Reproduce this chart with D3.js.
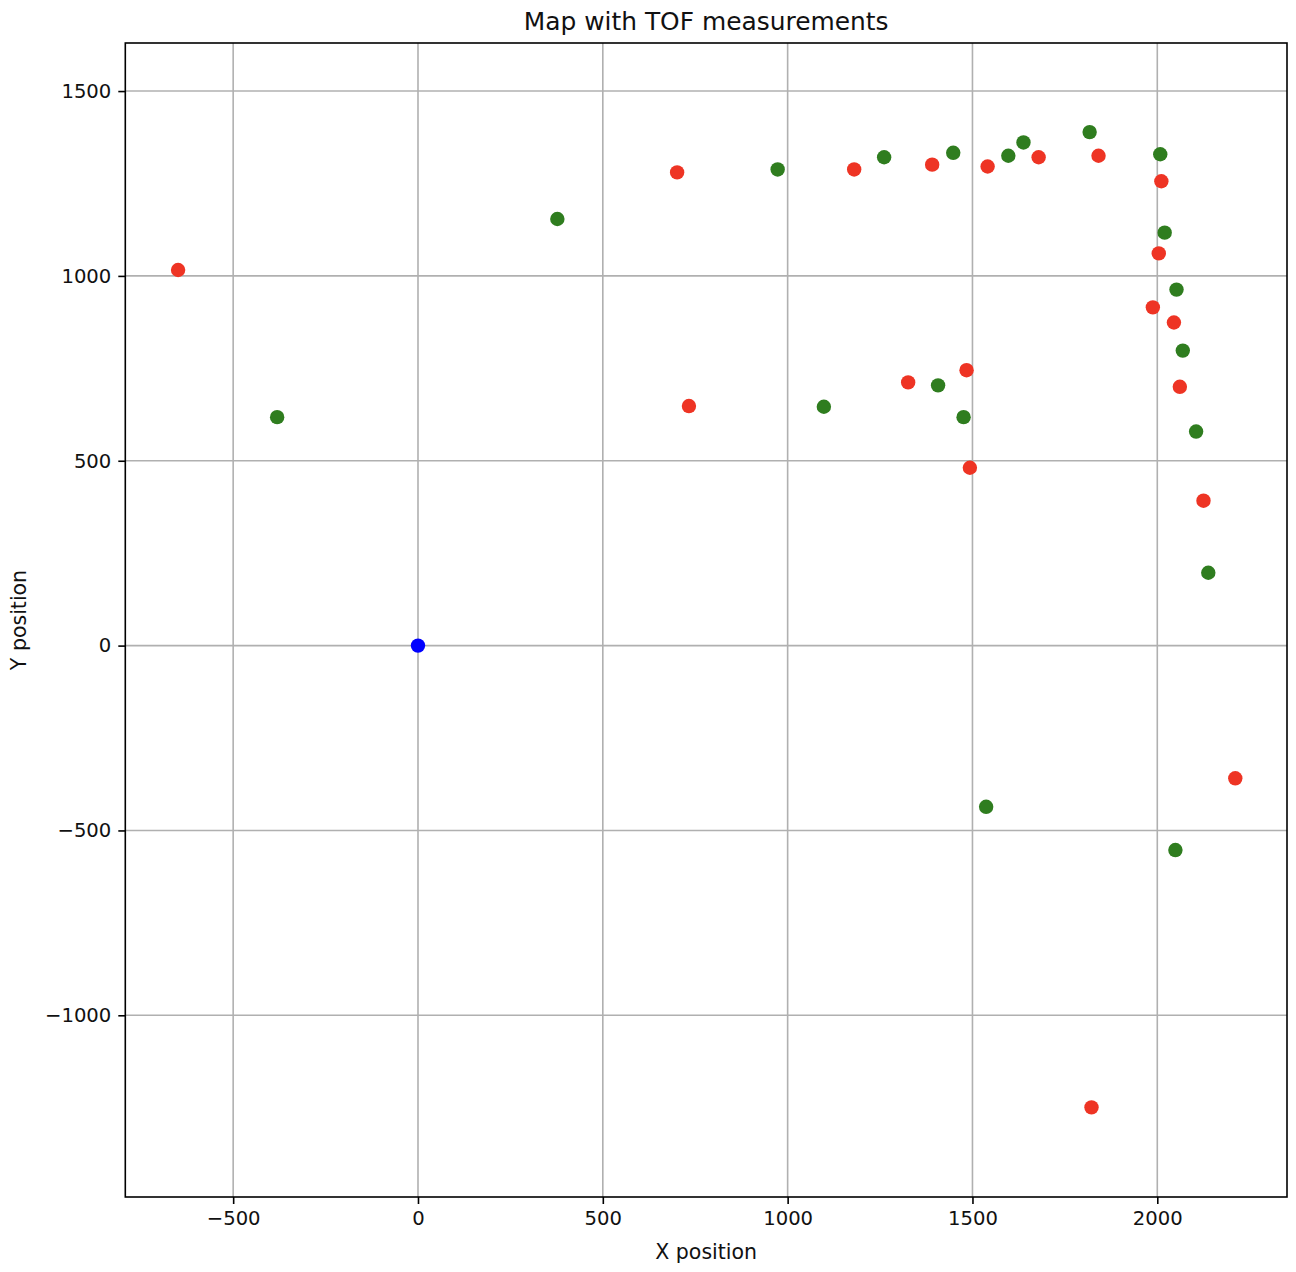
<!DOCTYPE html>
<html>
<head>
<meta charset="utf-8">
<script src="https://cdn.jsdelivr.net/npm/d3@7"></script>
<style>
  html, body { margin: 0; padding: 0; background: #fff; }
  svg { display: block; font-family: "DejaVu Sans", sans-serif; }
</style>
</head>
<body>
<svg id="chart" width="1296" height="1272"></svg>
<script>
// ---- data ----
const title = "Map with TOF measurements";
const xLabel = "X position";
const yLabel = "Y position";
const xTicks = [-500, 0, 500, 1000, 1500, 2000];
const yTicks = [-1000, -500, 0, 500, 1000, 1500];

const originX = [0];
const originY = [0];

const redX = [-649, 701, 733, 1180, 1326, 1391, 1484, 1493, 1541, 1679, 1841, 2011, 2004, 1988, 2045, 2061, 2125, 2211, 1822];
const redY = [1016, 1280, 648, 1288, 712, 1301, 745, 481, 1296, 1321, 1325, 1256, 1061, 915, 874, 700, 392, -359, -1249];

const greenX = [-381, 377, 973, 1098, 1261, 1407, 1448, 1476, 1597, 1638, 1817, 2008, 2020, 2052, 2069, 2105, 2138, 1537, 2049];
const greenY = [618, 1154, 1288, 646, 1321, 704, 1333, 618, 1325, 1361, 1389, 1329, 1117, 963, 798, 579, 197, -436, -553];

// ---- layout ----
const svg = d3.select("#chart");
const L = 125.3, R = 1287, T = 43, B = 1197;
const x = d3.scaleLinear().domain([-791.8, 2350.9]).range([L, R]);
const y = d3.scaleLinear().domain([-1491.5, 1630]).range([B, T]);
const fmt = d => d < 0 ? "\u2212" + Math.abs(d) : String(d);

// grid
const grid = svg.append("g");
grid.selectAll("line.gx").data(xTicks).enter().append("line")
  .attr("x1", d => x(d)).attr("x2", d => x(d)).attr("y1", T).attr("y2", B)
  .attr("stroke", "#b0b0b0").attr("stroke-width", 1.6);
grid.selectAll("line.gy").data(yTicks).enter().append("line")
  .attr("y1", d => y(d)).attr("y2", d => y(d)).attr("x1", L).attr("x2", R)
  .attr("stroke", "#b0b0b0").attr("stroke-width", 1.6);

// axes
const xAxis = svg.append("g").attr("transform", `translate(0,${B})`)
  .call(d3.axisBottom(x).tickValues(xTicks).tickFormat(fmt).tickSize(7).tickPadding(7));
const yAxis = svg.append("g").attr("transform", `translate(${L},0)`)
  .call(d3.axisLeft(y).tickValues(yTicks).tickFormat(fmt).tickSize(7).tickPadding(7));
[xAxis, yAxis].forEach(a => {
  a.select(".domain").remove();
  a.selectAll(".tick line").attr("stroke", "#000").attr("stroke-width", 1.6);
  a.selectAll(".tick text").attr("fill", "#111").style("font-size", "19.6px")
    .style("font-family", "DejaVu Sans, sans-serif");
});

// frame
svg.append("rect").attr("x", L).attr("y", T).attr("width", R - L).attr("height", B - T)
  .attr("fill", "none").attr("stroke", "#000").attr("stroke-width", 1.6);

// points
const pts = svg.append("g");
function drawSeries(xs, ys, color) {
  pts.selectAll(null).data(xs.map((v, i) => [v, ys[i]])).enter().append("circle")
    .attr("cx", d => x(d[0])).attr("cy", d => y(d[1])).attr("r", 7.2)
    .attr("fill", color);
}
drawSeries(originX, originY, "#0000ff");
drawSeries(redX, redY, "#ee3424");
drawSeries(greenX, greenY, "#2f7d1f");

// labels
svg.append("text").attr("x", (L + R) / 2).attr("y", 30).attr("text-anchor", "middle")
  .style("font-size", "24.9px").attr("fill", "#111").text(title);
svg.append("text").attr("x", (L + R) / 2).attr("y", 1259).attr("text-anchor", "middle")
  .style("font-size", "20.5px").attr("fill", "#111").text(xLabel);
svg.append("text").attr("transform", `translate(26,${(T + B) / 2}) rotate(-90)`)
  .attr("text-anchor", "middle").style("font-size", "20.5px").attr("fill", "#111").text(yLabel);
</script>
</body>
</html>
